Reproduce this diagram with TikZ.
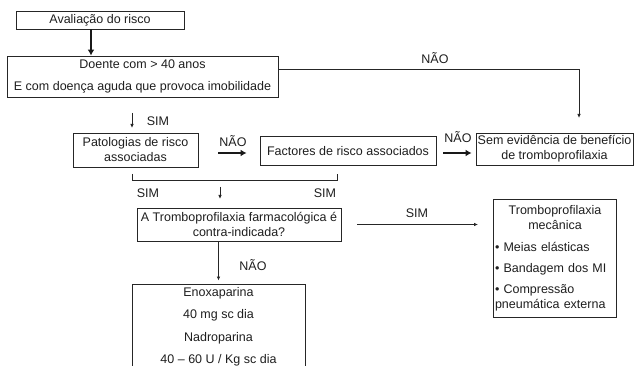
\documentclass[tikz,border=0pt]{standalone}
\usepackage{fontspec}
\setmainfont{Liberation Sans}
\usetikzlibrary{arrows.meta}
\begin{document}
\begin{tikzpicture}[x=1pt,y=-1pt,
  box/.style={draw=black!85,line width=0.9pt,inner sep=1pt,align=center,font=\fontsize{12.5}{15}\selectfont,text=black!88},
  lbl/.style={font=\fontsize{12.5}{15}\selectfont,text=black!88,inner sep=0pt},
  thinarrow/.style={draw=black!85,line width=0.8pt,-{Latex[length=4pt,width=3.5pt]}},
  fatarrow/.style={draw=black!90,line width=2pt,-{Latex[length=6pt,width=7pt]}},
  plainline/.style={draw=black!85,line width=0.8pt}]
\useasboundingbox[fill=white] (0,0) rectangle (634,366);

% boxes
\node[box,minimum width=168pt,minimum height=18pt] (aval) at (100,20) {Avaliação do risco};
\node[box,minimum width=271pt,minimum height=41pt] (doente) at (142.5,76.5)
  {Doente com > 40 anos\\[7pt]E com doença aguda que provoca imobilidade};
\node[box,minimum width=125pt,minimum height=34pt] (patol) at (135.5,150) {Patologias de risco\\associadas};
\node[box,minimum width=176pt,minimum height=29pt] (fact) at (348,151) {Factores de risco associados};
\node[box,minimum width=157pt,minimum height=32pt] (sem) at (554.5,149) {Sem evidência de benefício\\de tromboprofilaxia};
\node[box,minimum width=204pt,minimum height=33pt] (quest) at (239,224.5) {A Tromboprofilaxia farmacológica é\\contra-indicada?};
\node[box,align=left,text width=120pt,inner sep=1.5pt,minimum height=118pt] (mec) at (555,258)
  {{\centering Tromboprofilaxia\\mecânica\par}\vspace{7pt}%
   • Meias elásticas\\[6pt]
   • Bandagem dos MI\\[6pt]
   • Compressão\\pneumática externa};
\node[box,minimum width=173pt,minimum height=86pt] (enox) at (218.5,327)
  {Enoxaparina\\[7.5pt]40 mg sc dia\\[7.5pt]Nadroparina\\[7.5pt]40 – 60 U / Kg sc dia};

% free ends
\coordinate (semtop) at (579,118);
\coordinate (s1a) at (132,113);
\coordinate (s1b) at (132,128);
\coordinate (bl) at (132,174);
\coordinate (br) at (337,174);
\coordinate (s2a) at (220,187);
\coordinate (s2b) at (220,199);

% connectors
\draw[fatarrow] ([xshift=-9pt]aval.south) -- ([xshift=-9pt]aval.south |- doente.north);
\draw[thinarrow] ([yshift=7pt]doente.east) -| (semtop);
\draw[thinarrow] (s1a) -- (s1b);
\draw[fatarrow] ([xshift=20pt,yshift=-3pt]patol.east) -- ([xshift=-13pt,yshift=-3pt]patol.east -| fact.west);
\draw[fatarrow] ([xshift=7pt,yshift=-2pt]fact.east) -- ([xshift=-4pt,yshift=-2pt]fact.east -| sem.west);
\draw[plainline] (bl) -- ++(0,6) -| (br);
\draw[thinarrow] (s2a) -- (s2b);
\draw[thinarrow] ([xshift=16pt]quest.east) -- ([xshift=-15pt]quest.east -| mec.west);
\draw[thinarrow] (quest.south -| enox.north) -- ([yshift=3pt]enox.north);

% labels
\node[lbl] (n1) at (435,58) {NÃO};
\node[lbl] (sim1) at (158,121) {SIM};
\node[lbl] (n2) at (233,141) {NÃO};
\node[lbl] (n3) at (458,137) {NÃO};
\node[lbl] (sim2) at (148,193) {SIM};
\node[lbl] (sim3) at (325,193) {SIM};
\node[lbl] (sim4) at (417,213) {SIM};
\node[lbl] (n4) at (253,265) {NÃO};
\end{tikzpicture}
\end{document}
